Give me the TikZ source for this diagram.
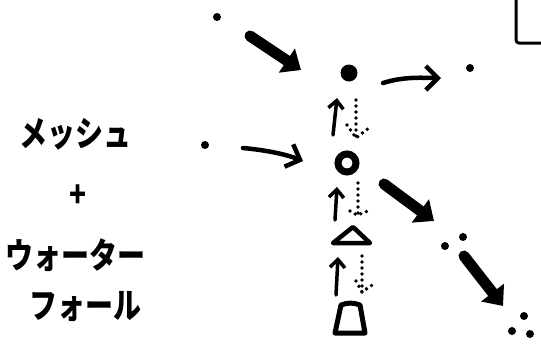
\documentclass[tikz,border=0pt]{standalone}
\usepackage{fontspec}
\newfontfamily\jp{Noto Sans CJK JP}
\usetikzlibrary{arrows.meta,calc}
\begin{document}
\begin{tikzpicture}[x=1pt,y=-1pt,
  sdot/.style={circle,fill=black,inner sep=0pt,minimum size=8pt},
  bigdot/.style={circle,fill=black,inner sep=0pt,minimum size=17pt},
  ring/.style={circle,draw=black,line width=7pt,inner sep=0pt,minimum size=18pt},
  thick arrow/.style={line width=11pt,line cap=round,-{Triangle[length=17pt,width=28pt]}},
  thin arrow/.style={line width=4.5pt,line cap=round,line join=round,-{Straight Barb[length=12pt,width=24pt,line width=4.5pt]}},
  up arrow/.style={line width=3.5pt,line cap=round,-{Straight Barb[length=8pt,width=15pt,line width=3.5pt]}},
  dotline/.style={line width=3.8pt,line cap=round,dash pattern=on 0pt off 6pt},
  label/.style={font=\jp\bfseries\fontsize{35}{37}\selectfont,inner sep=0pt,xscale=0.8,transform shape}]
\useasboundingbox (0,0) rectangle (541,360);
% left text
\node[label] (t1) at (76,134) {メッシュ};
\node[label] (t2) at (78,196) {+};
\node[label] (t3) at (76,255) {ウォーター};
\node[label] (t4) at (85,307) {フォール};
% dots and shapes
\node[sdot] (d1) at (217,17) {};
\node[bigdot] (bd) at (349,73) {};
\node[sdot] (d2) at (470,68) {};
\node[sdot] (d3) at (205,145) {};
\node[ring] (rg) at (347,163) {};
\node[sdot] (e1) at (445,246) {};
\node[sdot] (e2) at (463,237) {};
\node[sdot] (f1) at (524,316) {};
\node[sdot] (f2) at (512,331) {};
\node[sdot] (f3) at (530,334) {};
% triangle and trapezoid
\draw[line width=4.5pt,line join=round] (333,243) -- (353,227) -- (370,243) -- cycle;
\coordinate (tri) at (351,237);
\draw[line width=5pt,line join=round] (335,333) -- (341,305) to[bend left=20] (360,305) -- (365,333) -- cycle;
\coordinate (trap) at (350,319);
% corner of box
\draw[line width=3pt,rounded corners=3pt] (516,-5) -- (516,43) -- (546,43);
% big arrows
\coordinate (a1s) at (250,36); \coordinate (a1e) at (301,70);
\draw[thick arrow] (a1s) -- (a1e);
\coordinate (a2s) at (384,184); \coordinate (a2e) at (434,221);
\draw[thick arrow] (a2s) -- (a2e);
\coordinate (a3s) at (464,256); \coordinate (a3e) at (503,306);
\draw[thick arrow] (a3s) -- (a3e);
% thin arrows
\coordinate (b1s) at (383,83); \coordinate (b1e) at (441,78);
\draw[thin arrow] (b1s) .. controls (405,76) and (425,78) .. (b1e);
\coordinate (b2s) at (243,148); \coordinate (b2e) at (303,161);
\draw[thin arrow] (b2s) .. controls (265,150) and (285,154) .. (b2e);
% up arrows
\coordinate (u1s) at (333,135); \coordinate (u1e) at (337,98);
\draw[up arrow] (u1s) -- (u1e);
\coordinate (u2s) at (335,220); \coordinate (u2e) at (337,187);
\draw[up arrow] (u2s) -- (u2e);
\coordinate (u3s) at (336,295); \coordinate (u3e) at (338,257);
\draw[up arrow] (u3s) -- (u3e);
% dotted down arrows
\draw[dotline] (356,100) -- (356,138);
\draw[dotline] (347,125) -- (356,138) -- (370,127);
\draw[dotline] (358,183) -- (358,213);
\draw[dotline] (350,211) -- (357,215) -- (368,211);
\draw[dotline] (362,256) -- (362,292);
\draw[dotline] (356,281) -- (362,292) -- (375,283);
\end{tikzpicture}
\end{document}
